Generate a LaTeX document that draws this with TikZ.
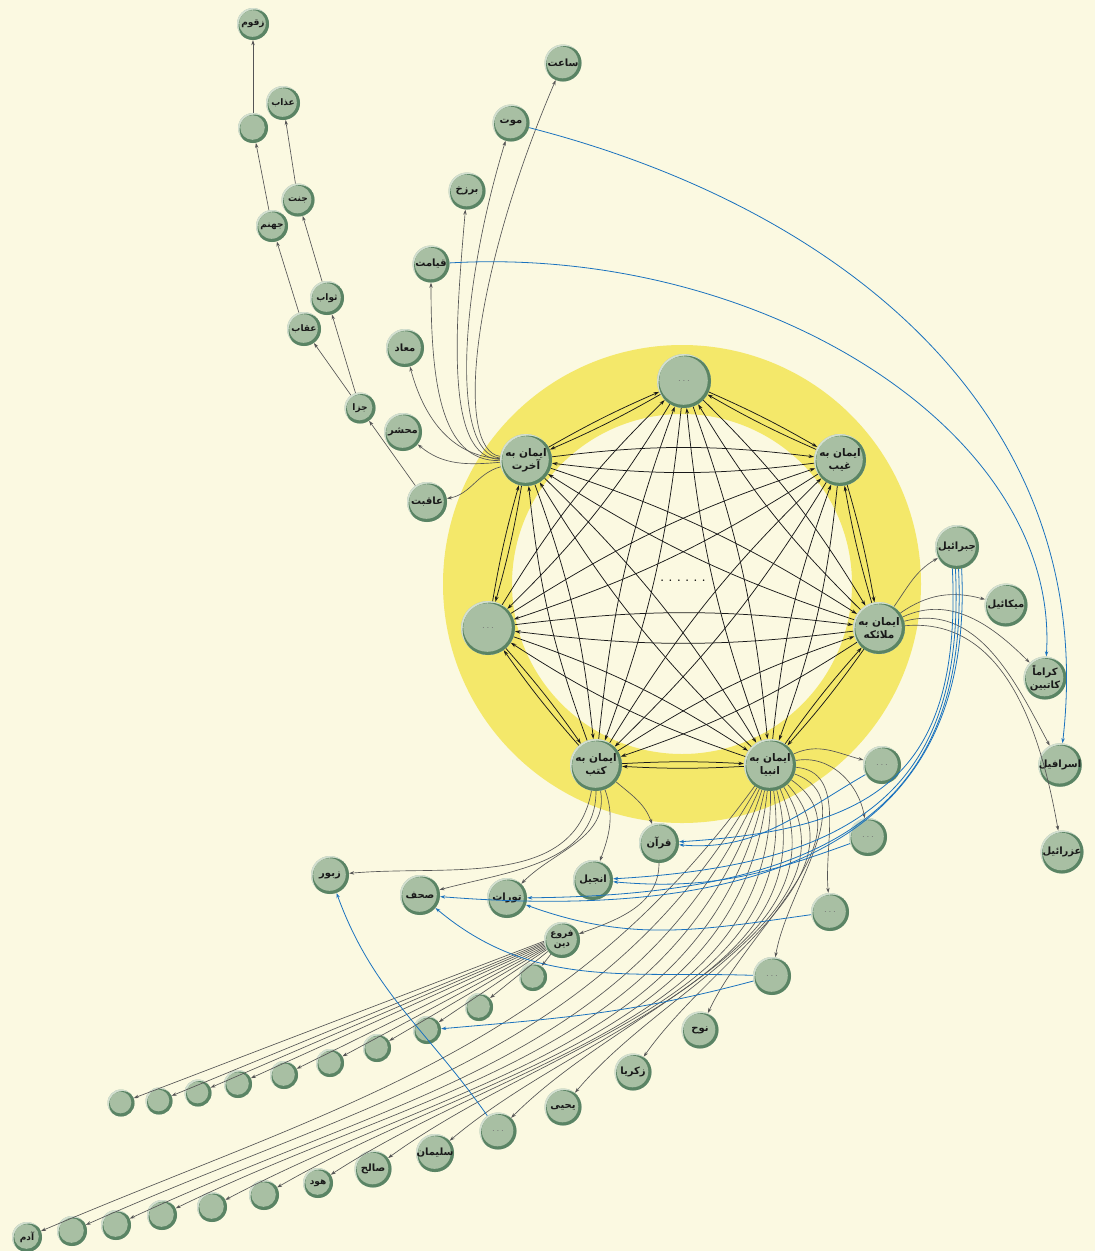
\documentclass[tikz,border=0pt]{standalone}
\usepackage{fontspec}
\newfontfamily\ar[Script=Arabic]{DejaVu Sans}
\TeXXeTstate=1
\usetikzlibrary{arrows.meta,calc}
\definecolor{bg}{HTML}{FBF9E1}
\definecolor{ring}{HTML}{F4E86A}
\definecolor{ballfill}{HTML}{A8BFA3}
\definecolor{balldark}{HTML}{5A8464}
\definecolor{balllight}{HTML}{D3DFD0}
\definecolor{gline}{HTML}{555555}
\definecolor{bline}{HTML}{1A72BE}
\newcommand\ptxt[1]{{\ar\bfseries\beginR #1\endR}}
\newcommand\dts{{\color{black!55}$\cdots$}}
\tikzset{
  ball/.style={circle, inner sep=0pt, minimum size=#1pt, fill=ballfill, align=center,
    text=black!90, font=\fontsize{10}{12.5}\selectfont,
    path picture={
      \fill[balllight] let \p1=(path picture bounding box.center), \p2=(path picture bounding box.north east), \n1={\x2-\x1} in (\p1) circle[radius=\n1];
      \fill[balldark] let \p1=(path picture bounding box.center), \p2=(path picture bounding box.north east), \n1={\x2-\x1} in ({\x1+1.6pt},{\y1-1.6pt}) circle[radius=\n1];
      \fill[ballfill] let \p1=(path picture bounding box.center), \p2=(path picture bounding box.north east), \n1={\x2-\x1-2.7} in ({\x1-0.5pt},{\y1+0.5pt}) circle[radius=\n1];
    }},
  sm/.style={font=\fontsize{9}{10.5}\selectfont},
  big/.style={font=\fontsize{10.5}{13}\selectfont},
  carrow/.style={draw=black!90, line width=0.75pt, -{Stealth[length=5.5pt,width=3.6pt]}},
  garrow/.style={draw=gline, line width=0.65pt, -{Stealth[length=5pt,width=3.4pt]}},
  barrow/.style={draw=bline, line width=0.8pt, -{Stealth[length=5pt,width=3.4pt]}},
}
\begin{document}
\begin{tikzpicture}[x=1pt,y=1pt]
\useasboundingbox (0,0) rectangle (1095,-1251);
\fill[bg] (0,0) rectangle (1095,-1251);
\fill[ring,even odd rule] (682,-584) circle[radius=239] (682,-584) circle[radius=170];

% ---- central heptagon
\node[ball=54] (c1) at (684,-381) {\dts};
\node[ball=52,big] (c2) at (840,-460) {\ptxt{ایمان به}\\\ptxt{غیب}};
\node[ball=52,big] (c3) at (879,-628) {\ptxt{ایمان به}\\\ptxt{ملائکه}};
\node[ball=52,big] (c4) at (770,-765) {\ptxt{ایمان به}\\\ptxt{انبیا}};
\node[ball=52,big] (c5) at (596,-765) {\ptxt{ایمان به}\\\ptxt{کتب}};
\node[ball=54] (c6) at (488,-628) {\dts};
\node[ball=52,big] (c7) at (526,-460) {\ptxt{ایمان به}\\\ptxt{آخرت}};
\node[font=\bfseries] (mid) at (683,-581) {. . . . . .};

% ---- akherat group
\node[ball=40] (aqebat) at (427,-502) {\ptxt{عاقبت}};
\node[ball=38] (mahshar) at (403,-432) {\ptxt{محشر}};
\node[ball=38] (maad) at (405,-348) {\ptxt{معاد}};
\node[ball=37] (qiamat) at (431,-264) {\ptxt{قیامت}};
\node[ball=37] (barzakh) at (467,-191) {\ptxt{برزخ}};
\node[ball=37] (mowt) at (511,-123) {\ptxt{موت}};
\node[ball=37] (saat) at (563,-63) {\ptxt{ساعت}};
\node[ball=31,sm] (jaza) at (360,-408) {\ptxt{جزا}};
\node[ball=34,sm] (eqab) at (304,-329) {\ptxt{عقاب}};
\node[ball=34,sm] (savab) at (327,-298) {\ptxt{ثواب}};
\node[ball=32,sm] (jahannam) at (272,-226) {\ptxt{جهنم}};
\node[ball=33,sm] (jannat) at (298,-200) {\ptxt{جنت}};
\node[ball=34,sm] (azab) at (283,-103) {\ptxt{عذاب}};
\node[ball=30] (emp0) at (253,-128) {};
\node[ball=32,sm] (zaqqum) at (253,-24) {\ptxt{زقوم}};

% ---- malaek group
\node[ball=44] (jebrail) at (957,-547) {\ptxt{جبرائیل}};
\node[ball=43] (mikail) at (1006,-605) {\ptxt{میکائیل}};
\node[ball=43] (kerama) at (1045,-678) {\ptxt{کراماً}\\\ptxt{کاتبین}};
\node[ball=43] (esrafil) at (1060,-765) {\ptxt{اسرافیل}};
\node[ball=43] (ezrail) at (1062,-852) {\ptxt{عزرائیل}};

% ---- kotob group
\node[ball=40] (quran) at (659,-843) {\ptxt{قرآن}};
\node[ball=40] (injil) at (593,-880) {\ptxt{انجیل}};
\node[ball=40] (towrat) at (507,-898) {\ptxt{تورات}};
\node[ball=40] (sohof) at (420,-895) {\ptxt{صحف}};
\node[ball=38] (zabur) at (330,-875) {\ptxt{زبور}};
\node[ball=36,sm] (foru) at (562,-940) {\ptxt{فروع}\\\ptxt{دین}};
\node[ball=28] (f1) at (533,-977) {};
\node[ball=28] (f2) at (479,-1007) {};
\node[ball=28] (f3) at (427,-1030) {};
\node[ball=28] (f4) at (377,-1048) {};
\node[ball=28] (f5) at (330,-1063) {};
\node[ball=28] (f6) at (284,-1075) {};
\node[ball=28] (f7) at (238,-1084) {};
\node[ball=27] (f8) at (198,-1093) {};
\node[ball=27] (f9) at (159,-1101) {};
\node[ball=27] (f10) at (121,-1103) {};

% ---- anbia group
\node[ball=38] (d1) at (882,-765) {\dts};
\node[ball=38] (d2) at (868,-837) {\dts};
\node[ball=38] (d3) at (830,-912) {\dts};
\node[ball=38] (d4) at (772,-976) {\dts};
\node[ball=37] (nuh) at (700,-1030) {\ptxt{نوح}};
\node[ball=37] (zakaria) at (633,-1072) {\ptxt{زکریا}};
\node[ball=37] (yahya) at (563,-1107) {\ptxt{یحیی}};
\node[ball=37] (d5) at (498,-1131) {\dts};
\node[ball=37] (soleiman) at (435,-1153) {\ptxt{سلیمان}};
\node[ball=37] (saleh) at (373,-1169) {\ptxt{صالح}};
\node[ball=30,sm] (hud) at (318,-1183) {\ptxt{هود}};
\node[ball=30] (p1) at (264,-1195) {};
\node[ball=30] (p2) at (212,-1207) {};
\node[ball=30] (p3) at (162,-1215) {};
\node[ball=30] (p4) at (116,-1225) {};
\node[ball=30] (p5) at (72,-1231) {};
\node[ball=30,sm] (adam) at (27,-1237) {\ptxt{آدم}};

% ---- central connections
\foreach \i in {1,...,7}{\foreach \j in {1,...,7}{
  \pgfmathtruncatemacro{\dd}{mod(\j-\i+7,7)}
  \ifnum\dd=0 \else
    \pgfmathsetmacro{\bb}{(\dd==1||\dd==6)?3:7}
    \draw[carrow] (c\i) to[bend left=\bb] (c\j);
  \fi}}

% ---- akherat edges
\draw[garrow] (c7) to[out=195,in=10] (aqebat);
\draw[garrow] (c7) to[out=185,in=-40] (mahshar);
\draw[garrow] (c7) to[out=177,in=-75] (maad);
\draw[garrow] (c7) .. controls (440,-462) and (431,-380) .. (qiamat);
\draw[garrow] (c7) .. controls (445,-458) and (455,-330) .. (barzakh);
\draw[garrow] (c7) .. controls (450,-454) and (460,-290) .. (mowt);
\draw[garrow] (c7) .. controls (455,-450) and (470,-280) .. (saat);
\draw[garrow] (aqebat) -- (jaza);
\draw[garrow] (jaza) -- (eqab);
\draw[garrow] (jaza) -- (savab);
\draw[garrow] (eqab) -- (jahannam);
\draw[garrow] (savab) -- (jannat);
\draw[garrow] (jahannam) -- (emp0);
\draw[garrow] (jannat) -- (azab);
\draw[garrow] (emp0) -- (zaqqum);

% ---- malaek edges
\draw[garrow] (c3) to[out=55,in=-150] (jebrail);
\draw[garrow] (c3) to[out=35,in=165] (mikail);
\draw[garrow] (c3) to[out=25,in=135] (kerama);
\draw[garrow] (c3) to[out=15,in=118] (esrafil);
\draw[garrow] (c3) to[out=5,in=100] (ezrail);

% ---- kotob edges
\draw[garrow] (c5) to[out=-40,in=110] (quran);
\draw[garrow] (c5) to[out=-70,in=70] (injil);
\draw[garrow] (c5) to[out=-80,in=45] (towrat);
\draw[garrow] (c5) to[out=-90,in=15] (sohof);
\draw[garrow] (c5) to[out=-100,in=5] (zabur);
\draw[garrow] (quran) to[out=-90,in=20] (foru);
\draw[garrow] (foru) -- (f1);
\draw[garrow] (foru) -- (f2);
\foreach \i in {3,...,10}{
  \pgfmathtruncatemacro{\aa}{212-4*(\i-3)}
  \draw[garrow] (foru.\aa) -- (f\i);
}

% ---- anbia edges
\draw[garrow] (c4) to[out=25,in=165] (d1);
\draw[garrow] (c4) to[out=10,in=100] (d2);
\draw[garrow] (c4) to[out=-5,in=95] (d3);
\draw[garrow] (c4) to[out=-20,in=80] (d4);
\foreach \t/\o/\n in {nuh/-35/65, zakaria/-48/55, yahya/-58/50, d5/-67/45, soleiman/-75/40,
   saleh/-82/36, hud/-89/33, p1/-96/30, p2/-102/28, p3/-108/26, p4/-114/25, p5/-120/24, adam/-126/23}{
  \draw[garrow] (c4) to[out=\o,in=\n] (\t);
}

% ---- blue links
\draw[barrow] (mowt) .. controls (850,-210) and (1100,-420) .. (esrafil);
\draw[barrow] (qiamat) .. controls (760,-245) and (1060,-430) .. (kerama);
\draw[barrow] (jebrail.-102) .. controls (962,-780) and (870,-830) .. (quran);
\draw[barrow] (jebrail.-94) .. controls (966,-795) and (850,-865) .. (injil);
\draw[barrow] (jebrail.-86) .. controls (970,-808) and (830,-895) .. (towrat);
\draw[barrow] (jebrail.-78) .. controls (974,-820) and (800,-925) .. (sohof);
\draw[barrow] (d1) to[out=-150,in=-5] (quran);
\draw[barrow] (d2) to[out=-160,in=-5] (injil);
\draw[barrow] (d3) to[out=-172,in=-20] (towrat);
\draw[barrow] (d4) to[out=178,in=-40] (sohof);
\draw[barrow] (d4) to[out=-165,in=5] (f3);
\draw[barrow] (d5) to[out=125,in=-70] (zabur);
\end{tikzpicture}
\end{document}
